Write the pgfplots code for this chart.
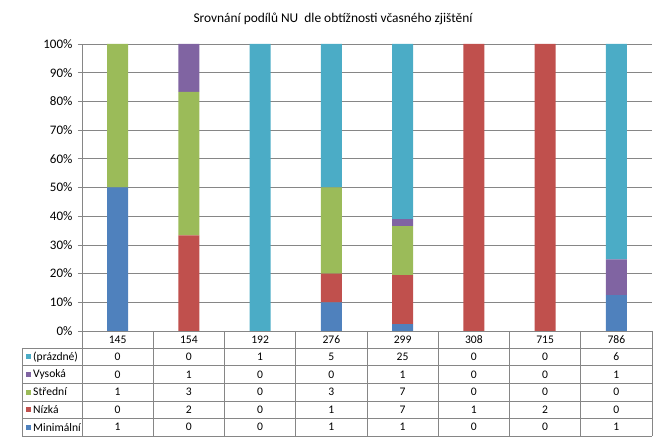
\documentclass[border=0pt]{standalone}
\usepackage{fontspec}
\setmainfont{Carlito}
\usepackage{pgfplots}
\pgfplotsset{compat=1.18}
\definecolor{cmin}{HTML}{4F81BD}
\definecolor{cniz}{HTML}{C0504D}
\definecolor{cstr}{HTML}{9BBB59}
\definecolor{cvys}{HTML}{8064A2}
\definecolor{cpra}{HTML}{4BACC6}
\definecolor{gridgray}{HTML}{868686}

\begin{document}
\begin{tikzpicture}
\useasboundingbox (-82pt,-111pt) rectangle (585pt,331pt);
\begin{axis}[
  at={(0,0)}, anchor=south west,
  scale only axis, width=570pt, height=287pt,
  xmin=-0.5, xmax=7.5, ymin=0, ymax=100,
  ybar stacked, bar width=21pt,
  xtick=\empty,
  ytick={0,10,...,100},
  yticklabel={\pgfmathprintnumber{\tick}\%},
  /pgf/number format/assume math mode=true,
  tick label style={font=\fontsize{13}{15}\selectfont},
  yticklabel style={xshift=-2pt},
  ymajorgrids, grid style={gridgray, line width=0.6pt},
  axis lines*=left,
  axis line style={gridgray, line width=0.6pt},
  tick align=outside, major tick length=4pt,
  ytick style={gridgray, line width=0.6pt},
  clip=false,
]
% stack order: Minimalni, Nizka, Stredni, Vysoka, (prazdne)
\addplot[fill=cmin, draw=none] coordinates {(0,50) (1,0) (2,0) (3,10) (4,2.439) (5,0) (6,0) (7,12.5)};
\addplot[fill=cniz, draw=none] coordinates {(0,0) (1,33.333) (2,0) (3,10) (4,17.073) (5,100) (6,100) (7,0)};
\addplot[fill=cstr, draw=none] coordinates {(0,50) (1,50) (2,0) (3,30) (4,17.073) (5,0) (6,0) (7,0)};
\addplot[fill=cvys, draw=none] coordinates {(0,0) (1,16.667) (2,0) (3,0) (4,2.439) (5,0) (6,0) (7,12.5)};
\addplot[fill=cpra, draw=none] coordinates {(0,0) (1,0) (2,100) (3,50) (4,60.976) (5,0) (6,0) (7,75)};
\end{axis}

% title
\node[font=\fontsize{13.4}{15}\selectfont] at (251pt,312pt) {Srovnání podílů NU\ \ dle obtížnosti včasného zjištění};

% data table
\begin{scope}[gridgray, line width=0.6pt]
  \draw (0,0) -- (570pt,0);
  \foreach \k in {0,...,8} \draw (71.25pt*\k,0) -- (71.25pt*\k,-105pt);
  \draw (-60pt,-17pt) -- (-60pt,-105pt);
  \foreach \y in {17,34.6,52.2,69.8,87.4,105} \draw (-60pt,-\y pt) -- (570pt,-\y pt);
\end{scope}
\begin{scope}[font=\fontsize{11.6}{14}\selectfont]
  \foreach \c [count=\i from 0] in {145,154,192,276,299,308,715,786}
    \node at (35.625pt+71.25pt*\i,-8.5pt) {\c};
  \foreach \lab/\col [count=\r from 0] in {(prázdné)/cpra,Vysoká/cvys,Střední/cstr,Nízká/cniz,Minimální/cmin} {
    \fill[\col] (-56pt,-25.8pt-17.6pt*\r-2.5pt) rectangle ++(5pt,5pt);
    \node[anchor=west, inner sep=0pt] at (-49pt,-25.8pt-17.6pt*\r) {\lab};
  }
  \foreach \v [count=\i from 0] in {0,0,1,5,25,0,0,6} \node at (35.625pt+71.25pt*\i,-25.8pt) {\v};
  \foreach \v [count=\i from 0] in {0,1,0,0,1,0,0,1} \node at (35.625pt+71.25pt*\i,-43.4pt) {\v};
  \foreach \v [count=\i from 0] in {1,3,0,3,7,0,0,0} \node at (35.625pt+71.25pt*\i,-61pt) {\v};
  \foreach \v [count=\i from 0] in {0,2,0,1,7,1,2,0} \node at (35.625pt+71.25pt*\i,-78.6pt) {\v};
  \foreach \v [count=\i from 0] in {1,0,0,1,1,0,0,1} \node at (35.625pt+71.25pt*\i,-96.2pt) {\v};
\end{scope}
\end{tikzpicture}
\end{document}
